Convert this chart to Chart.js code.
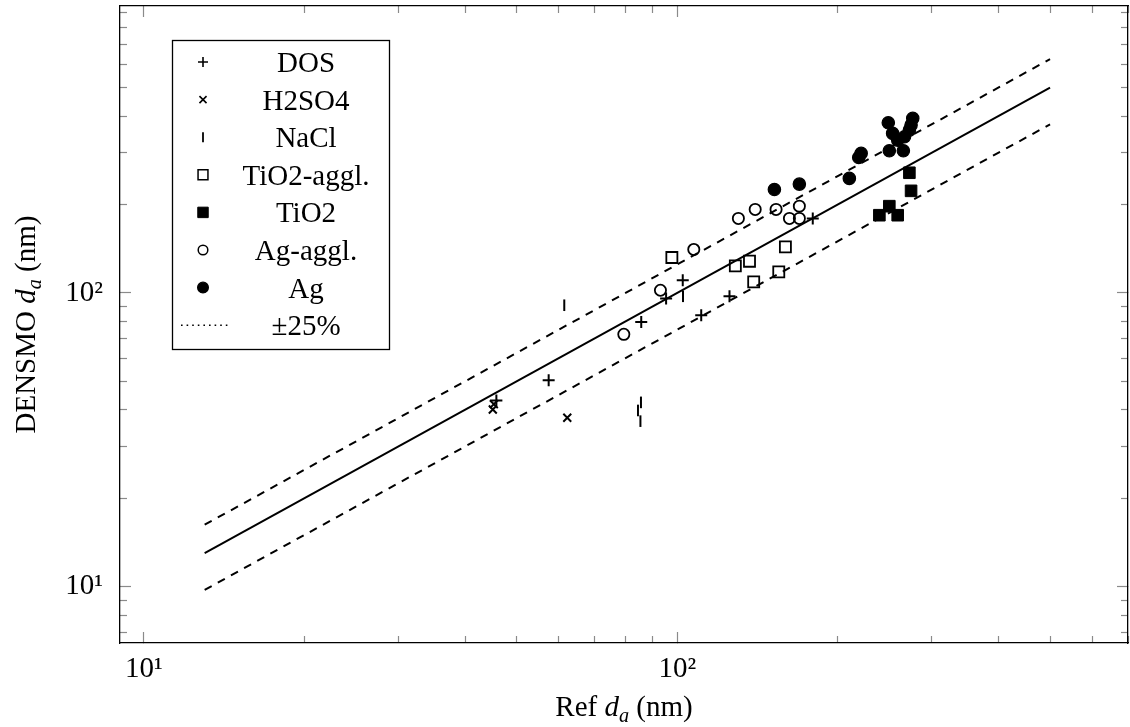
<!DOCTYPE html>
<html>
<head>
<meta charset="utf-8">
<script src="https://cdn.jsdelivr.net/npm/chart.js@4/dist/chart.umd.min.js"></script>
<style>
html,body{margin:0;padding:0;background:#fff;}
#wrap{width:1130px;height:727px;position:relative;}
</style>
</head>
<body>
<div id="wrap"><canvas id="c" width="1130" height="727"></canvas></div>
<script>
// ---------------- data ----------------
const seriesNames = ['DOS', 'H2SO4', 'NaCl', 'TiO2-aggl.', 'TiO2', 'Ag-aggl.', 'Ag'];
const bandLabel = '±25%';

const dosX = [45.8, 57.4, 85.6, 95.3, 102.4, 110.9, 125.3, 179.5];
const dosY = [43.0, 50.4, 79.6, 95.7, 110.5, 83.9, 97.4, 179.3];

const h2so4X = [45.3, 45.1, 62.2];
const h2so4Y = [41.8, 40.1, 37.6];

const naclX = [61.4, 85.5, 84.4, 85.3, 102.5];
const naclY = [90.8, 42.4, 39.8, 36.6, 97.4];

const tio2AgglX = [97.7, 128.5, 136.6, 139.1, 155.0, 159.5];
const tio2AgglY = [132.0, 123.6, 128.2, 109.0, 117.9, 143.4];

const tio2X = [239.3, 249.8, 259.0, 272.4, 274.4];
const tio2Y = [183.9, 197.4, 183.9, 256.5, 222.6];

const agAgglX = [79.4, 93.0, 107.4, 130.2, 140.0, 153.2, 162.3, 169.4, 169.4];
const agAgglY = [72.3, 102.1, 140.6, 179.3, 192.4, 192.4, 179.3, 179.3, 197.4];

const agX = [152.1, 169.4, 210.2, 218.9, 221.2, 248.7, 249.8, 253.4, 259.0, 265.4, 266.7, 272.4, 274.4, 276.4];
const agY = [225.0, 234.7, 245.4, 289.2, 298.5, 379.5, 304.7, 349.2, 331.3, 304.7, 340.0, 358.4, 372.7, 392.9];

// reference lines (1:1 and +/-25 %)
const refLineX = [13, 500];
const refLineY = [13, 500];
const upperLineY = [16.25, 625];
const lowerLineY = [9.75, 375];

// axes
const xMin = 9.02, xMax = 700;
const yMin = 6.43, yMax = 948;
const xMajorTicks = [10, 100];
const xTickLabels = ['10¹', '10²'];
const xMinorTicks = [20, 30, 40, 50, 60, 70, 80, 90, 200, 300, 400, 500, 600, 700];
const yMajorTicks = [10, 100];
const yTickLabels = ['10¹', '10²'];
const yMinorTicks = [7, 8, 9, 20, 30, 40, 50, 60, 70, 80, 90, 200, 300, 400, 500, 600, 700, 800, 900];

// ---------------- styling ----------------
const FONT = '"Liberation Serif", "Times New Roman", serif';
const FS = 29;
const TICK_COLOR = '#8a8a8a';

function pts(xs, ys) { return xs.map((x, i) => ({x: x, y: ys[i]})); }

// plot marker styles
const markerStyles = [
  {pointStyle: 'cross', radius: 6.0, fill: false, bw: 2.0, rot: 0},
  {pointStyle: 'crossRot', radius: 5.6, fill: false, bw: 2.0, rot: 0},
  {pointStyle: 'line', radius: 5.8, fill: false, bw: 2.0, rot: 90},
  {pointStyle: 'rect', radius: 7.8, fill: false, bw: 1.8, rot: 0},
  {pointStyle: 'rect', radius: 8.2, fill: true, bw: 1.0, rot: 0},
  {pointStyle: 'circle', radius: 5.6, fill: false, bw: 1.8, rot: 0},
  {pointStyle: 'circle', radius: 6.2, fill: true, bw: 1.2, rot: 0}
];
// legend marker styles (slightly smaller, as in the original)
const legendMarkers = [
  {pointStyle: 'cross', radius: 5.0, fill: false, bw: 1.6},
  {pointStyle: 'crossRot', radius: 5.0, fill: false, bw: 1.6},
  {pointStyle: 'line', radius: 5.0, fill: false, bw: 1.8},
  {pointStyle: 'rect', radius: 7.0, fill: false, bw: 1.5},
  {pointStyle: 'rect', radius: 7.4, fill: true, bw: 1.0},
  {pointStyle: 'circle', radius: 4.8, fill: false, bw: 1.5},
  {pointStyle: 'circle', radius: 5.4, fill: true, bw: 1.2}
];
const seriesData = [
  pts(dosX, dosY), pts(h2so4X, h2so4Y), pts(naclX, naclY), pts(tio2AgglX, tio2AgglY),
  pts(tio2X, tio2Y), pts(agAgglX, agAgglY), pts(agX, agY)
];

const datasets = seriesNames.map((name, i) => {
  const m = markerStyles[i];
  return {
    type: 'scatter',
    label: name,
    data: seriesData[i],
    pointStyle: m.pointStyle,
    pointRadius: m.radius,
    pointRotation: m.rot,
    pointBorderWidth: m.bw,
    borderColor: '#000',
    pointBorderColor: '#000',
    backgroundColor: m.fill ? '#000' : 'rgba(0,0,0,0)',
    pointBackgroundColor: m.fill ? '#000' : 'rgba(0,0,0,0)',
    showLine: false
  };
});
function lineDs(label, ys, dash) {
  return {
    type: 'line', label: label, data: pts(refLineX, ys),
    borderColor: '#000', borderWidth: 2, borderDash: dash, pointRadius: 0,
    fill: false, tension: 0, showLine: true
  };
}
datasets.push(lineDs('1:1', refLineY, []));
datasets.push(lineDs(bandLabel, upperLineY, [8, 7]));
datasets.push(lineDs(bandLabel + ' low', lowerLineY, [8, 7]));

function axis(pos, ticksArr, labels, len, size, weight, showBorder, pad) {
  const horiz = (pos === 'bottom' || pos === 'top');
  return {
    type: 'logarithmic',
    position: pos,
    weight: weight,
    min: horiz ? xMin : yMin,
    max: horiz ? xMax : yMax,
    afterBuildTicks: s => { s.ticks = ticksArr.map(v => ({value: v})); },
    afterFit: s => {
      if (horiz) s.height = size; else s.width = size;
      s.paddingTop = 0; s.paddingBottom = 0; s.paddingLeft = 0; s.paddingRight = 0;
    },
    ticks: {
      display: !!labels,
      autoSkip: false,
      maxRotation: 0,
      minRotation: 0,
      padding: pad || 0,
      color: '#000',
      font: {family: FONT, size: FS},
      callback: (v) => {
        if (!labels) return '';
        const k = ticksArr.indexOf(v);
        return k >= 0 ? labels[k] : '';
      }
    },
    grid: {
      display: true, drawOnChartArea: false, drawTicks: true,
      tickLength: -len, tickColor: TICK_COLOR, tickWidth: 1.2
    },
    border: {display: showBorder, color: '#000', width: 1.3}
  };
}

// ---------------- custom legend + axis titles ----------------
function drawMarker(ctx, m, x, y) {
  ctx.save();
  ctx.strokeStyle = '#000';
  ctx.fillStyle = '#000';
  ctx.lineWidth = m.bw;
  const r = m.radius;
  ctx.beginPath();
  if (m.pointStyle === 'cross') {
    ctx.moveTo(x - r, y); ctx.lineTo(x + r, y);
    ctx.moveTo(x, y - r); ctx.lineTo(x, y + r);
    ctx.stroke();
  } else if (m.pointStyle === 'crossRot') {
    const d = r * Math.SQRT1_2;
    ctx.moveTo(x - d, y - d); ctx.lineTo(x + d, y + d);
    ctx.moveTo(x + d, y - d); ctx.lineTo(x - d, y + d);
    ctx.stroke();
  } else if (m.pointStyle === 'line') {
    ctx.moveTo(x, y - r); ctx.lineTo(x, y + r);
    ctx.stroke();
  } else if (m.pointStyle === 'rect') {
    const s = r * Math.SQRT1_2;
    ctx.rect(x - s, y - s, 2 * s, 2 * s);
    if (m.fill) ctx.fill();
    ctx.stroke();
  } else {
    ctx.arc(x, y, r, 0, Math.PI * 2);
    if (m.fill) ctx.fill();
    ctx.stroke();
  }
  ctx.restore();
}

function drawMixed(ctx, parts, cx, baseline) {
  let w = 0;
  const sizes = parts.map(p => {
    const fs = p.sub ? FS * 0.7 : FS;
    ctx.font = (p.italic ? 'italic ' : '') + fs + 'px ' + FONT;
    const mw = ctx.measureText(p.t).width;
    w += mw;
    return {fs: fs, w: mw};
  });
  let x = cx - w / 2;
  parts.forEach((p, i) => {
    ctx.font = (p.italic ? 'italic ' : '') + sizes[i].fs + 'px ' + FONT;
    ctx.fillText(p.t, x, baseline + (p.sub ? FS * 0.22 : 0));
    x += sizes[i].w;
  });
}

const overlay = {
  id: 'overlay',
  afterDraw(chart) {
    const ctx = chart.ctx;
    ctx.save();
    // legend box
    const L = 172, T = 40, R = 389, B = 349;
    ctx.fillStyle = '#fff';
    ctx.fillRect(L, T, R - L, B - T);
    ctx.strokeStyle = '#000';
    ctx.lineWidth = 1.3;
    ctx.strokeRect(L + 0.5, T + 0.5, R - L, B - T);
    const rows = seriesNames.concat([bandLabel]);
    const rowY0 = 62, rowStep = 37.6, markX = 203, textX = 306;
    ctx.fillStyle = '#000';
    ctx.textAlign = 'left';
    ctx.textBaseline = 'alphabetic';
    rows.forEach((name, i) => {
      const cy = rowY0 + i * rowStep;
      if (i < seriesNames.length) {
        drawMarker(ctx, legendMarkers[i], markX, cy);
      } else {
        ctx.save();
        ctx.setLineDash([1.6, 4]);
        ctx.lineWidth = 1.6;
        ctx.beginPath();
        ctx.moveTo(181, cy); ctx.lineTo(228, cy);
        ctx.stroke();
        ctx.restore();
      }
      ctx.font = FS + 'px ' + FONT;
      const tw = ctx.measureText(name).width;
      ctx.fillText(name, textX - tw / 2, cy + 10);
    });
    // axis titles
    const ca = chart.chartArea;
    drawMixed(ctx, [{t: 'Ref '}, {t: 'd', italic: true}, {t: 'a', italic: true, sub: true}, {t: ' (nm)'}],
      (ca.left + ca.right) / 2, 716);
    ctx.save();
    ctx.translate(35, (ca.top + ca.bottom) / 2);
    ctx.rotate(-Math.PI / 2);
    drawMixed(ctx, [{t: 'DENSMO '}, {t: 'd', italic: true}, {t: 'a', italic: true, sub: true}, {t: ' (nm)'}], 0, 0);
    ctx.restore();
    ctx.restore();
  }
};

new Chart(document.getElementById('c'), {
  type: 'scatter',
  data: {datasets: datasets},
  options: {
    responsive: false,
    animation: false,
    devicePixelRatio: 1,
    events: [],
    layout: {padding: 0, autoPadding: false},
    plugins: {legend: {display: false}, tooltip: {enabled: false}, title: {display: false}},
    scales: {
      x: axis('bottom', xMajorTicks, xTickLabels, 11, 84, 0, true, 20),
      xMinor: axis('bottom', xMinorTicks, null, 7, 0, -1, false),
      xTop: axis('top', xMajorTicks, null, 11, 6, 0, true),
      xTopMinor: axis('top', xMinorTicks, null, 7, 0, -1, false),
      y: axis('left', yMajorTicks, yTickLabels, 11, 120, 0, true, 28),
      yMinor: axis('left', yMinorTicks, null, 7, 0, -1, false),
      yRight: axis('right', yMajorTicks, null, 11, 2, 0, true),
      yRightMinor: axis('right', yMinorTicks, null, 7, 0, -1, false)
    }
  },
  plugins: [overlay]
});
</script>
</body>
</html>
